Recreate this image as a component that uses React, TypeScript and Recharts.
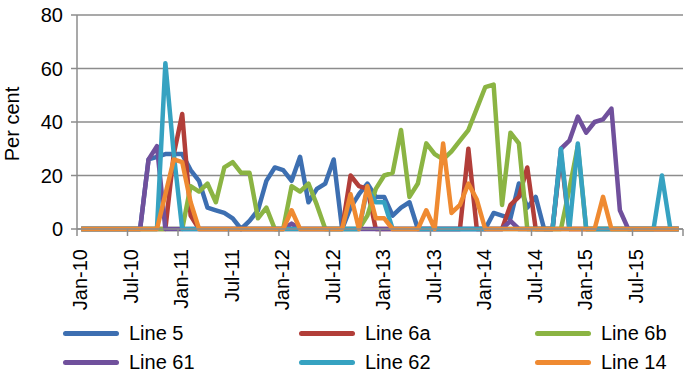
import { LineChart, Line, XAxis, YAxis, CartesianGrid } from "recharts";

const FONT = "'Liberation Sans', Arial, sans-serif";

// one tick every 6 months, last tick (Jan-16) has no label
const tickLabels = ["Jan-10", "Jul-10", "Jan-11", "Jul-11", "Jan-12", "Jul-12", "Jan-13", "Jul-13", "Jan-14", "Jul-14", "Jan-15", "Jul-15", ""];
const yTicks = [0, 20, 40, 60, 80];

// monthly values Jan-10 .. Dec-15, per cent
const line5 = [
  0, 0, 0, 0, 0, 0, 0, 0, 26, 27, 28, 28, 28, 22, 18, 8, 7, 6, 4, 0, 3, 7, 18, 23,
  22, 18, 27, 10, 15, 17, 26, 0, 8, 13, 17, 12, 12, 5, 8, 10, 0, 0, 0, 0, 0, 0, 0, 0,
  0, 6, 5, 4, 17, 8, 12, 0, 0, 0, 0, 0, 0, 0, 0, 0, 0, 0, 0, 0, 0, 0, 0, 0,
];
const line6a = [
  0, 0, 0, 0, 0, 0, 0, 0, 0, 0, 0, 28, 43, 5, 0, 0, 0, 0, 0, 0, 0, 0, 0, 0,
  0, 0, 0, 0, 0, 0, 0, 0, 20, 16, 15, 0, 0, 0, 0, 0, 0, 0, 0, 0, 0, 0, 30, 0,
  0, 0, 0, 9, 12, 23, 0, 0, 0, 28, 0, 0, 0, 0, 0, 0, 0, 0, 0, 0, 0, 0, 0, 0,
];
const line6b = [
  0, 0, 0, 0, 0, 0, 0, 0, 0, 0, 0, 0, 0, 16, 14, 17, 10, 23, 25, 21, 21, 4, 8, 0,
  0, 16, 14, 17, 9, 0, 0, 0, 0, 0, 5, 15, 20, 21, 37, 12, 17, 32, 28, 26, 29, 33, 37, 45,
  53, 54, 9, 36, 32, 0, 0, 0, 0, 0, 15, 31, 0, 0, 0, 0, 0, 0, 0, 0, 0, 0, 0, 0,
];
const line61 = [
  0, 0, 0, 0, 0, 0, 0, 0, 26, 31, 0, 0, 0, 0, 0, 0, 0, 0, 0, 0, 0, 0, 0, 0,
  0, 2, 0, 0, 0, 0, 0, 0, 0, 0, 0, 0, 0, 0, 0, 0, 0, 0, 0, 0, 0, 0, 0, 0,
  0, 0, 0, 3, 0, 0, 0, 0, 0, 30, 33, 42, 36, 40, 41, 45, 7, 0, 0, 0, 0, 0, 0, 0,
];
const line62 = [
  0, 0, 0, 0, 0, 0, 0, 0, 0, 0, 62, 28, 0, 0, 0, 0, 0, 0, 0, 0, 0, 0, 0, 0,
  0, 0, 0, 0, 0, 0, 0, 0, 0, 0, 15, 10, 10, 0, 0, 0, 0, 0, 0, 0, 0, 0, 0, 0,
  0, 0, 0, 0, 0, 0, 0, 0, 0, 30, 0, 32, 0, 0, 0, 0, 0, 0, 0, 0, 0, 20, 0, 0,
];
const line14 = [
  0, 0, 0, 0, 0, 0, 0, 0, 0, 0, 13, 26, 25, 10, 0, 0, 0, 0, 0, 0, 0, 0, 0, 0,
  0, 7, 0, 0, 0, 0, 0, 0, 13, 0, 16, 4, 4, 0, 0, 0, 0, 7, 0, 32, 6, 9, 17, 11,
  0, 0, 0, 0, 0, 0, 0, 0, 0, 0, 0, 0, 0, 0, 12, 0, 0, 0, 0, 0, 0, 0, 0, 0,
];

const SERIES = [
  { name: "Line 5", values: line5, color: "#3d6fb1" },
  { name: "Line 6a", values: line6a, color: "#b23e39" },
  { name: "Line 6b", values: line6b, color: "#8bb443" },
  { name: "Line 61", values: line61, color: "#70509c" },
  { name: "Line 62", values: line62, color: "#36a2c1" },
  { name: "Line 14", values: line14, color: "#ef8a31" },
];

// points sit in the middle of each month
const data = line5.map((_, i) => {
  const row: Record<string, number> = { x: i + 0.5 };
  for (const s of SERIES) row[s.name] = s.values[i];
  return row;
});

const XTick = ({ x, y, payload }: any) => {
  const label = tickLabels[Math.round(payload.value / 6)] ?? "";
  return (
    <text
      x={x}
      y={y}
      transform={`rotate(-90 ${x} ${y})`}
      textAnchor="end"
      dy="0.5em"
      fontSize={20}
      fontFamily={FONT}
      fill="#000"
    >
      {label}
    </text>
  );
};

const PerCent = () => (
  <text
    x={12}
    y={124}
    transform="rotate(-90 12 124)"
    textAnchor="middle"
    dominantBaseline="central"
    fontSize={20}
    fontFamily={FONT}
    fill="#000"
  >
    Per cent
  </text>
);

export default function App() {
  return (
    <div style={{ position: "absolute", left: 0, top: 0, width: 685, height: 377, background: "#fff" }}>
      <LineChart width={685} height={377} data={data} margin={{ top: 15, right: 2, bottom: 0, left: 0 }}>
        <CartesianGrid vertical={false} stroke="#8c8c8c" strokeWidth={1.5} />
        <XAxis
          dataKey="x"
          type="number"
          domain={[0, 72]}
          ticks={tickLabels.map((_, i) => i * 6)}
          interval={0}
          height={148}
          tickSize={7}
          tickMargin={13}
          tick={<XTick />}
          stroke="#8c8c8c"
          strokeWidth={1.5}
        />
        <YAxis
          domain={[0, 80]}
          ticks={yTicks}
          width={77}
          tickSize={6}
          tickMargin={8}
          tick={{ fontSize: 20, fontFamily: FONT, fill: "#000" }}
          stroke="#8c8c8c"
          strokeWidth={1.5}
          label={<PerCent />}
        />
        {SERIES.map((s) => (
          <Line
            key={s.name}
            dataKey={s.name}
            stroke={s.color}
            strokeWidth={4.5}
            strokeLinejoin="round"
            dot={false}
            activeDot={false}
            type="linear"
            isAnimationActive={false}
          />
        ))}
      </LineChart>
      {SERIES.map((s, i) => (
        <div
          key={s.name}
          style={{
            position: "absolute",
            left: 63 + (i % 3) * 236,
            top: (i < 3 ? 333 : 362) - 13,
            height: 26,
            display: "flex",
            alignItems: "center",
            fontFamily: FONT,
            fontSize: 20,
            color: "#000",
            whiteSpace: "nowrap",
          }}
        >
          <div style={{ width: 56, height: 5, borderRadius: 3, background: s.color, marginRight: 10 }} />
          <span>{s.name}</span>
        </div>
      ))}
    </div>
  );
}
